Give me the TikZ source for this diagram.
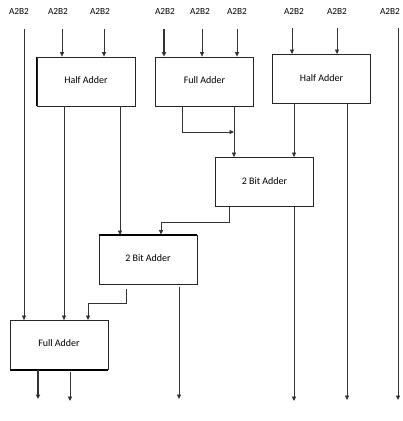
\documentclass[tikz,border=0pt]{standalone}
\usepackage{fontspec}
\setmainfont{Carlito}
\usetikzlibrary{arrows.meta}
\begin{document}
\begin{tikzpicture}[x=1pt,y=-1pt,
  blk/.style={draw=black!85,line width=0.9pt,minimum width=98pt,minimum height=49pt,inner sep=0pt,font=\fontsize{10}{12}\selectfont},
  lbl/.style={font=\fontsize{9.3}{11}\selectfont,inner sep=0pt},
  wire/.style={draw=black!80,line width=0.8pt},
  arr/.style={wire,-{Triangle[length=4.5pt,width=4.2pt]}}]
\useasboundingbox (0,0) rectangle (403,421);
% labels
\foreach \n/\x in {l1/19,l2/58,l3/100,l4/165,l5/200,l6/237,l7/294,l8/337,l9/390}
  \node[lbl] (\n) at (\x,11) {A2B2};
% blocks
\node[blk] (ha1) at (86,81.5) {\raisebox{2pt}{Half Adder}};
\node[blk] (fa1) at (204.5,81.5) {\raisebox{2pt}{Full Adder}};
\node[blk] (ha2) at (321.5,79) {\raisebox{2pt}{Half Adder}};
\node[blk] (ba1) at (264.5,182) {\raisebox{2pt}{2 Bit Adder}};
\node[blk] (ba2) at (148,260) {\raisebox{4pt}{2 Bit Adder}};
\node[blk] (fa2) at (59,345) {\raisebox{3pt}{Full Adder}};
\draw[line width=1.6pt] (ha1.north west) -- (ha1.south west);
\draw[line width=1.6pt] (ba2.north west) -- (ba2.north east);
\draw[line width=1.6pt] (fa2.south west) -- (fa2.south east);
% top inputs
\coordinate (t2) at (62,29); \coordinate (t3) at (104,29);
\coordinate (t4) at (164,29); \coordinate (t5) at (202,29); \coordinate (t6) at (237,29);
\coordinate (t7) at (292,28); \coordinate (t8) at (337,28);
\draw[arr] (t2) -- (t2 |- ha1.north);
\draw[arr] (t3) -- (t3 |- ha1.north);
\draw[arr,line width=1.6pt] (t4) -- (t4 |- fa1.north);
\draw[arr] (t5) -- (t5 |- fa1.north);
\draw[arr] (t6) -- (t6 |- fa1.north);
\draw[arr] (t7) -- (t7 |- ha2.north);
\draw[arr] (t8) -- (t8 |- ha2.north);
% side pass-throughs
\coordinate (t1) at (24,29); \coordinate (t9) at (398,28);
\coordinate (e9) at (398,400);
\draw[arr] (t1) -- (t1 |- fa2.north);
\draw[arr] (t9) -- (e9);
% HA1 outputs
\coordinate (h1a) at (64,106); \coordinate (h1b) at (120,106);
\draw[arr] (h1a) -- (h1a |- fa2.north);
\draw[arr] (h1b) -- (h1b |- ba2.north);
% FA1 outputs
\coordinate (f1a) at (182,106); \coordinate (f1b) at (234,106);
\draw[arr] (f1a) |- (234,132);
\draw[arr] (f1b) -- (f1b |- ba1.north);
% HA2 outputs
\coordinate (h2a) at (294,104); \coordinate (h2b) at (347,104);
\coordinate (e2b) at (347,400);
\draw[arr] (h2a) -- (h2a |- ba1.north);
\draw[arr] (h2b) -- (e2b);
% BA1 outputs
\coordinate (b1a) at (229,207); \coordinate (b1b) at (294,207);
\coordinate (e1b) at (294,401);
\draw[arr] (b1a) -- (229,222) -| (161,234.5);
\draw[arr] (b1b) -- (e1b);
% BA2 outputs
\coordinate (b2a) at (126,289); \coordinate (b2b) at (179,287);
\coordinate (e2a) at (179,399);
\draw[arr] (b2a) -- (126,303) -| (88,320);
\draw[arr] (b2b) -- (e2a);
% FA2 outputs
\coordinate (o1) at (38,370); \coordinate (o2) at (70,372);
\draw[arr,line width=1.6pt] (o1) -- (38,399);
\draw[arr] (o2) -- (70,401);
\end{tikzpicture}
\end{document}
